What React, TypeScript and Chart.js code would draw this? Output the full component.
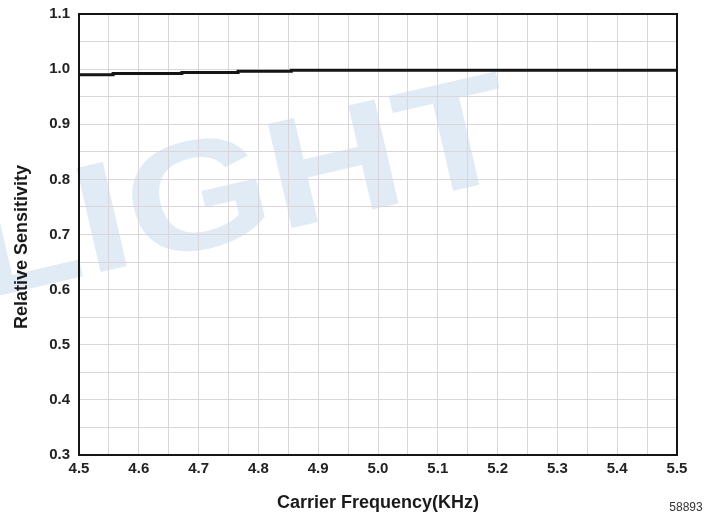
import React, { useEffect, useRef } from "react";
import { Chart, registerables } from "chart.js";

Chart.register(...registerables);

const frequencies = [4.5, 4.557, 4.672, 4.766, 4.855, 4.953, 5.5];
const sensitivity = [0.988, 0.99, 0.992, 0.994, 0.996, 0.998, 0.998];
const xTitle = "Carrier Frequency(KHz)";
const yTitle = "Relative Sensitivity";
const watermark = "LIGHT";
const footnote = "58893";

const FONT = "'Liberation Sans', Arial, sans-serif";

export default function App() {
  const ref = useRef<HTMLCanvasElement | null>(null);

  useEffect(() => {
    document.body.style.margin = "0";
    const canvas = ref.current;
    if (!canvas) return;

    const decor = {
      id: "decor",
      beforeDraw(chart: any) {
        const ctx = chart.ctx;
        ctx.save();
        ctx.fillStyle = "#ffffff";
        ctx.fillRect(0, 0, chart.width, chart.height);
        ctx.translate(240, 196);
        ctx.rotate((-13 * Math.PI) / 180);
        ctx.scale(1.2, 1);
        ctx.font = `bold 155px ${FONT}`;
        ctx.fillStyle = "rgb(224,235,246)";
        ctx.textAlign = "center";
        ctx.textBaseline = "middle";
        ctx.fillText(watermark, 0, 0);
        ctx.restore();
      },
      afterDraw(chart: any) {
        const ctx = chart.ctx;
        const a = chart.chartArea;
        ctx.save();
        ctx.strokeStyle = "#151515";
        ctx.lineWidth = 2;
        ctx.strokeRect(a.left, a.top, a.right - a.left, a.bottom - a.top);
        ctx.fillStyle = "#1a1a1a";
        ctx.font = `bold 18px ${FONT}`;
        ctx.textAlign = "center";
        ctx.textBaseline = "middle";
        ctx.fillText(xTitle, (a.left + a.right) / 2, 503);
        ctx.save();
        ctx.translate(22, 247);
        ctx.rotate(-Math.PI / 2);
        ctx.fillText(yTitle, 0, 0);
        ctx.restore();
        ctx.font = `12px ${FONT}`;
        ctx.fillStyle = "#333";
        ctx.fillText(footnote, 686, 508);
        ctx.restore();
      },
    };

    const tickLabel = (v: any) => {
      const n = Number(v);
      const r = Math.round(n * 100);
      return r % 10 === 0 ? (r / 100).toFixed(1) : "";
    };

    const chart = new Chart(canvas, {
      type: "line",
      data: {
        datasets: [
          {
            data: frequencies.map((f, i) => ({ x: f, y: sensitivity[i] })),
            borderColor: "#151515",
            borderWidth: 3,
            pointRadius: 0,
            stepped: "after",
            fill: false,
          },
        ],
      },
      options: {
        animation: false,
        responsive: false,
        devicePixelRatio: 1,
        layout: { padding: { top: 14, right: 41, left: 0, bottom: 0 } },
        plugins: { legend: { display: false }, tooltip: { enabled: false } },
        scales: {
          x: {
            type: "linear",
            min: 4.5,
            max: 5.5,
            afterFit: (s: any) => {
              s.height = 67;
              s.paddingLeft = 0;
              s.paddingRight = 0;
            },
            grid: { color: "#dad5da", lineWidth: 1, drawTicks: false },
            border: { display: false },
            ticks: {
              stepSize: 0.05,
              autoSkip: false,
              maxRotation: 0,
              padding: 5,
              color: "#222",
              font: { family: FONT, size: 15, weight: "bold" },
              callback: tickLabel,
            },
          },
          y: {
            min: 0.3,
            max: 1.1,
            afterFit: (s: any) => {
              s.width = 79;
              s.paddingTop = 0;
              s.paddingBottom = 0;
            },
            grid: { color: "#dad5da", lineWidth: 1, drawTicks: false },
            border: { display: false },
            ticks: {
              stepSize: 0.05,
              autoSkip: false,
              padding: 9,
              color: "#222",
              font: { family: FONT, size: 15, weight: "bold" },
              callback: tickLabel,
            },
          },
        },
      },
      plugins: [decor],
    });

    return () => chart.destroy();
  }, []);

  return (
    <div style={{ width: 718, height: 522 }}>
      <canvas ref={ref} width={718} height={522} />
    </div>
  );
}
